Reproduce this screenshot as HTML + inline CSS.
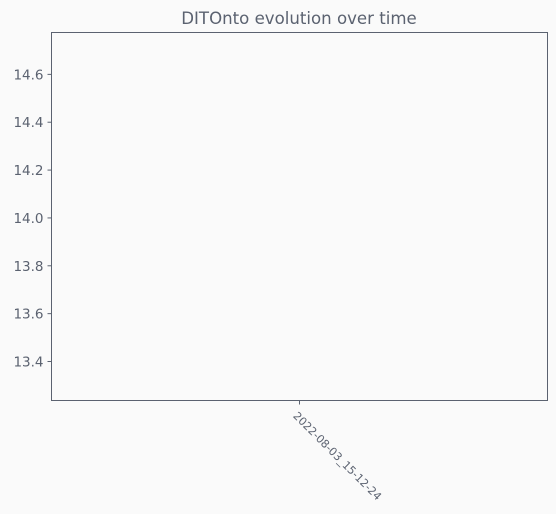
<!DOCTYPE html>
<html><head><meta charset="utf-8"><style>
html,body{margin:0;padding:0;background:#fafafa;}
svg{display:block;font-family:"DejaVu Sans","Liberation Sans",sans-serif;}
</style></head><body>
<svg id="chart" width="556" height="514">
<rect width="556" height="514" fill="#fafafa"/>
<text x="299" y="24" text-anchor="middle" font-size="16.6" fill="#5b6270">DITOnto evolution over time</text>
<rect x="51.5" y="32.5" width="496" height="368" fill="none" stroke="#5b6270" stroke-width="1"/>
<g id="yticks"></g><g id="xticks"></g><g id="series"></g>
</svg>
<script>
const categories = ["2022-08-03_15-12-24"];
const values = [14];
const yTickValues = [13.4, 13.6, 13.8, 14.0, 14.2, 14.4, 14.6];
const yMin = 13.237, yMax = 14.775;
const L = 51.5, R = 547.5, T = 32.5, B = 400.5;
const NS = "http://www.w3.org/2000/svg";
function yScale(v){ return B - (v - yMin) / (yMax - yMin) * (B - T); }
function xScale(i){ return categories.length === 1 ? (L + R) / 2 : L + (R - L) * (0.05 + 0.9 * i / (categories.length - 1)); }
const yg = document.getElementById('yticks');
yTickValues.forEach(v => {
  const y = yScale(v);
  const t = document.createElementNS(NS, 'line');
  t.setAttribute('x1', L - 4); t.setAttribute('x2', L); t.setAttribute('y1', y); t.setAttribute('y2', y);
  t.setAttribute('stroke', '#5b6270');
  
  
  yg.appendChild(t);
  const tx = document.createElementNS(NS, 'text');
  tx.setAttribute('x', L - 8); tx.setAttribute('y', y + 5);
  tx.setAttribute('text-anchor', 'end'); tx.setAttribute('font-size', '13.5'); tx.setAttribute('fill', '#5b6270');
  tx.textContent = v.toFixed(1);
  
  
  yg.appendChild(tx);
});
const xg = document.getElementById('xticks');
categories.forEach((c, i) => {
  const x = xScale(i);
  const t = document.createElementNS(NS, 'line');
  t.setAttribute('x1', x); t.setAttribute('x2', x); t.setAttribute('y1', B); t.setAttribute('y2', B + 4);
  t.setAttribute('stroke', '#5b6270');
  
  
  xg.appendChild(t);
  const tx = document.createElementNS(NS, 'text');
  tx.setAttribute('x', x - 7); tx.setAttribute('y', B + 16);
  tx.setAttribute('font-size', '11'); tx.setAttribute('fill', '#5b6270');
  tx.setAttribute('transform', `rotate(45 ${x - 7} ${B + 16})`);
  tx.textContent = c;
  
  
  xg.appendChild(tx);
});
const sg = document.getElementById('series');
values.forEach((v, i) => {
  const p = document.createElementNS(NS, 'circle');
  p.setAttribute('cx', xScale(i)); p.setAttribute('cy', yScale(v)); p.setAttribute('r', 0);
  p.setAttribute('fill', '#1f77b4');
  
  
  sg.appendChild(p);
});
</script>
</body></html>
